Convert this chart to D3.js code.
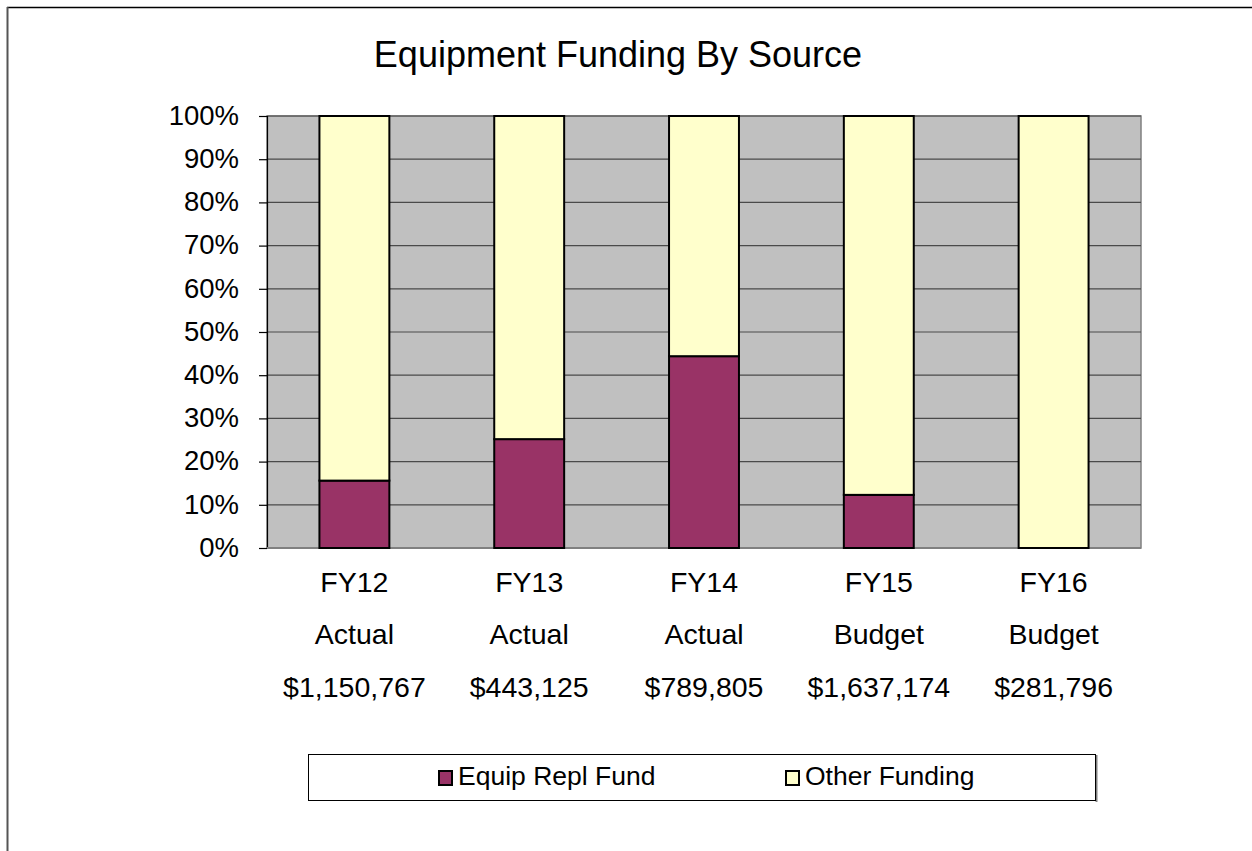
<!DOCTYPE html>
<html>
<head>
<meta charset="utf-8">
<script src="https://cdn.jsdelivr.net/npm/d3@7"></script>
<style>
  body { margin: 0; background: #fff; }
  text { font-family: "Liberation Sans", Arial, sans-serif; fill: #000; }
</style>
</head>
<body>
<div id="canvas"></div>
<script>
// ////////// DATA /////////////
var years = ["FY12", "FY13", "FY14", "FY15", "FY16"];
var kinds = ["Actual", "Actual", "Actual", "Budget", "Budget"];
var totals = ["$1,150,767", "$443,125", "$789,805", "$1,637,174", "$281,796"];
var equipRepl = [15.6, 25.2, 44.4, 12.3, 0];      // % Equip Repl Fund
var otherFunding = [84.4, 74.8, 55.6, 87.7, 100]; // % Other Funding
var seriesNames = ["Equip Repl Fund", "Other Funding"];
var yTicks = [0, 10, 20, 30, 40, 50, 60, 70, 80, 90, 100];

var rows = years.map((y, i) => ({
  year: y,
  "Equip Repl Fund": equipRepl[i],
  "Other Funding": otherFunding[i]
}));

///////// GLOBAL VARS //////////
var W = 1252, H = 851;
var plot = { left: 267, right: 1141, top: 116, bottom: 548 };

var svg = d3.select("#canvas")
  .append("svg")
  .attr("width", W)
  .attr("height", H);

// outer chart border (top + left only visible)
svg.append("line")
  .attr("x1", 7).attr("y1", 7.5).attr("x2", W).attr("y2", 7.5)
  .attr("stroke", "#000").attr("stroke-width", 1.5);
svg.append("line")
  .attr("x1", 7.5).attr("y1", 7).attr("x2", 7.5).attr("y2", H)
  .attr("stroke", "#555").attr("stroke-width", 2);

// title
svg.append("text")
  .attr("x", 618)
  .attr("y", 67)
  .attr("text-anchor", "middle")
  .attr("font-size", 36)
  .text("Equipment Funding By Source");

// scales
var x = d3.scaleBand()
  .domain(years)
  .range([plot.left, plot.right])
  .paddingInner(0.6)
  .paddingOuter(0.3);

var y = d3.scaleLinear()
  .domain([0, 100])
  .range([plot.bottom, plot.top]);

var color = d3.scaleOrdinal()
  .domain(seriesNames)
  .range(["#993366", "#FFFFCC"]);

// plot area background
svg.append("rect")
  .attr("x", plot.left)
  .attr("y", plot.top)
  .attr("width", plot.right - plot.left)
  .attr("height", plot.bottom - plot.top)
  .attr("fill", "#C0C0C0")
  .attr("stroke", "#808080")
  .attr("stroke-width", 1.5);

// gridlines
svg.append("g")
  .selectAll("line")
  .data(yTicks.filter(d => d > 0))
  .join("line")
  .attr("x1", plot.left)
  .attr("x2", plot.right)
  .attr("y1", d => y(d))
  .attr("y2", d => y(d))
  .attr("stroke", "#4a4a4a")
  .attr("stroke-width", 1.2);

// y axis
var yAxis = svg.append("g")
  .attr("transform", `translate(${plot.left},0)`)
  .call(d3.axisLeft(y).tickValues(yTicks).tickSize(8).tickPadding(20).tickFormat(d => d + "%"));
yAxis.select(".domain").attr("stroke", "#000").attr("stroke-width", 1.2);
yAxis.selectAll(".tick line").attr("stroke", "#000").attr("stroke-width", 1.2);
yAxis.selectAll(".tick text")
  .attr("font-size", 27.5)
  .attr("font-family", "Liberation Sans, Arial, sans-serif")
  .attr("fill", "#000")
  .attr("dy", "0.3em");

// bottom axis line
svg.append("line")
  .attr("x1", plot.left).attr("x2", plot.right)
  .attr("y1", plot.bottom).attr("y2", plot.bottom)
  .attr("stroke", "#808080").attr("stroke-width", 2);

// stacked bars
var stacked = d3.stack().keys(seriesNames)(rows);

svg.append("g")
  .selectAll("g")
  .data(stacked)
  .join("g")
  .attr("fill", d => color(d.key))
  .selectAll("rect")
  .data(d => d.filter(s => s[1] - s[0] > 0))
  .join("rect")
  .attr("x", d => x(d.data.year))
  .attr("y", d => y(d[1]))
  .attr("width", x.bandwidth())
  .attr("height", d => y(d[0]) - y(d[1]))
  .attr("stroke", "#000")
  .attr("stroke-width", 2);

// category labels (3 lines)
var cats = svg.append("g")
  .selectAll("g")
  .data(years)
  .join("g")
  .attr("transform", d => `translate(${x(d) + x.bandwidth() / 2},0)`);

cats.append("text").attr("y", 592).attr("text-anchor", "middle").attr("font-size", 28.5).text(d => d);
cats.append("text").attr("y", 644).attr("text-anchor", "middle").attr("font-size", 28.5).text((d, i) => kinds[i]);
cats.append("text").attr("y", 697).attr("text-anchor", "middle").attr("font-size", 28.5).text((d, i) => totals[i]);

/////// LEGEND ///////
var legend = svg.append("g");

legend.append("line")
  .attr("x1", 1096.5).attr("x2", 1096.5).attr("y1", 755).attr("y2", 802)
  .attr("stroke", "#808080").attr("stroke-width", 2);
legend.append("rect")
  .attr("x", 308.5)
  .attr("y", 754.5)
  .attr("width", 787)
  .attr("height", 46)
  .attr("fill", "#fff")
  .attr("stroke", "#000")
  .attr("stroke-width", 1);

var legendX = [438, 785];
seriesNames.forEach((name, i) => {
  legend.append("rect")
    .attr("x", legendX[i] + 1)
    .attr("y", 771)
    .attr("width", 13)
    .attr("height", 14)
    .attr("fill", color(name))
    .attr("stroke", "#000")
    .attr("stroke-width", 2);
  legend.append("text")
    .attr("x", legendX[i] + 20)
    .attr("y", 785)
    .attr("font-size", 26.5)
    .text(name);
});
</script>
</body>
</html>
